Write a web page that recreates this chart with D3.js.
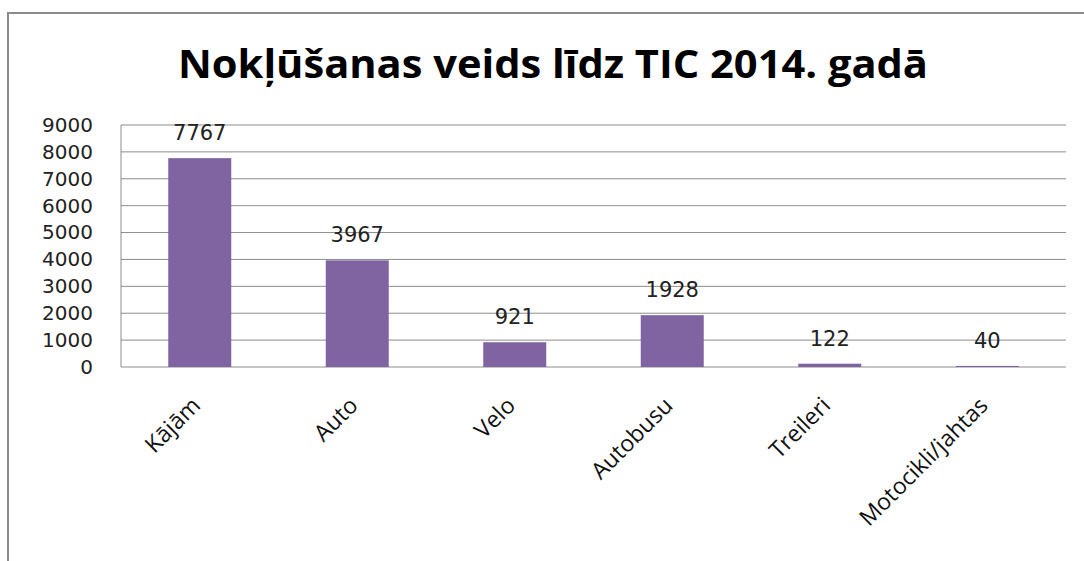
<!doctype html>
<html>
<head>
<meta charset="utf-8">
<script src="https://cdn.jsdelivr.net/npm/d3@7"></script>
<style>
  body { margin: 0; background: #fff; }
  .frame { fill: none; stroke: #8a8a8a; stroke-width: 2; }
  .grid line { stroke: #8c8c8c; stroke-width: 1; }
  .bar { fill: #8064a2; }
</style>
</head>
<body>
<svg id="chart" width="1084" height="561"></svg>
<script>
var categories = ["Kājām", "Auto", "Velo", "Autobusu", "Treileri", "Motocikli/jahtas"];
var values = [7767, 3967, 921, 1928, 122, 40];
var yTicks = [0, 1000, 2000, 3000, 4000, 5000, 6000, 7000, 8000, 9000];

var svg = d3.select("#chart");

var pLeft = 121, pRight = 1066, pTop = 125, pBottom = 367;

svg.append("rect")
   .attr("class", "frame")
   .attr("x", 8).attr("y", 13)
   .attr("width", 1200).attr("height", 700);

svg.append("text")
   .attr("x", 553)
   .attr("y", 78)
   .attr("text-anchor", "middle")
   .attr("font-family", "'Open Sans', sans-serif")
   .attr("font-weight", "bold")
   .attr("font-size", "39px")
   .attr("textLength", 750)
   .attr("lengthAdjust", "spacingAndGlyphs")
   .text("Nokļūšanas veids līdz TIC 2014. gadā");

var x = d3.scaleBand().domain(categories).range([pLeft, pRight]).paddingInner(0.6).paddingOuter(0.3);
var y = d3.scaleLinear().domain([0, 9000]).range([pBottom, pTop]);

// gridlines
svg.append("g")
   .attr("class", "grid")
   .selectAll("line")
   .data(yTicks)
   .enter().append("line")
   .attr("x1", pLeft).attr("x2", pRight)
   .attr("y1", function(d) { return y(d); })
   .attr("y2", function(d) { return y(d); });

svg.append("line")
   .attr("x1", pLeft).attr("x2", pLeft)
   .attr("y1", pTop).attr("y2", pBottom)
   .attr("stroke", "#8c8c8c");

// y axis labels
var yAxis = svg.append("g")
   .attr("transform", "translate(" + pLeft + ",0)")
   .call(d3.axisLeft(y).tickValues(yTicks).tickFormat(d3.format("d")).tickSize(0).tickPadding(28));
yAxis.select(".domain").remove();
yAxis.selectAll("text")
   .attr("font-family", "'DejaVu Sans', sans-serif")
   .attr("font-size", "20px")
   .attr("fill", "#222");

// bars
svg.selectAll(".bar")
   .data(values)
   .enter().append("rect")
   .attr("class", "bar")
   .attr("x", function(d, i) { return x(categories[i]); })
   .attr("y", function(d) { return y(d); })
   .attr("width", x.bandwidth())
   .attr("height", function(d) { return y(0) - y(d); });

// value labels
svg.selectAll(".val")
   .data(values)
   .enter().append("text")
   .attr("class", "val")
   .attr("x", function(d, i) { return x(categories[i]) + x.bandwidth() / 2; })
   .attr("y", function(d) { return y(d) - 18; })
   .attr("text-anchor", "middle")
   .attr("font-family", "'DejaVu Sans', sans-serif")
   .attr("font-size", "21px")
   .attr("fill", "#222")
   .text(function(d) { return d; });

// x axis labels, rotated
var xAxis = svg.append("g")
   .attr("transform", "translate(0," + pBottom + ")")
   .call(d3.axisBottom(x).tickSize(0).tickPadding(0));
xAxis.select(".domain").remove();
xAxis.selectAll("text")
   .attr("font-family", "'Open Sans', sans-serif")
   .attr("font-size", "23px")
   .attr("fill", "#111")
   .attr("text-anchor", "end")
   .attr("dy", 0)
   .attr("transform", "translate(2,40) rotate(-45)");
</script>
</body>
</html>
